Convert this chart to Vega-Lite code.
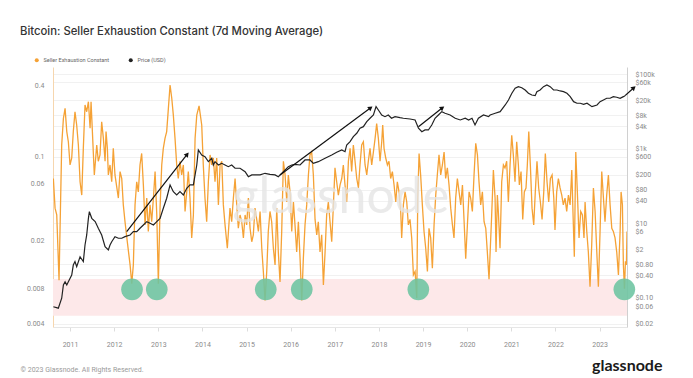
{
  "$schema": "https://vega.github.io/schema/vega-lite/v6.json",
  "width": 574,
  "height": 260,
  "autosize": {"type": "none"},
  "padding": {"left": 53, "top": 67, "right": 66, "bottom": 51},
  "background": "white",
  "title": {"text": "Bitcoin: Seller Exhaustion Constant (7d Moving Average)", "anchor": "start", "frame": "group", "dx": -33, "offset": 11, "baseline": "alphabetic", "fontSize": 11.3, "font": "Inter", "fontWeight": 500, "color": "#333333"},
  "config": {"view": {"stroke": null}, "axis": {"labelFont": "Roboto", "labelFontSize": 7, "labelColor": "#8a8a8a"}},
  "datasets": {
    "sec": [
      {"date":"2010-08-16","v":0.066},{"date":"2010-08-30","v":0.0373},{"date":"2010-09-13","v":0.0327},{"date":"2010-10-02","v":0.0093},{"date":"2010-10-24","v":0.126},{"date":"2010-11-07","v":0.21},{"date":"2010-11-21","v":0.255},{"date":"2010-12-05","v":0.163},{"date":"2010-12-18","v":0.134},
      {"date":"2011-01-01","v":0.0857},{"date":"2011-01-15","v":0.098},{"date":"2011-01-28","v":0.163},{"date":"2011-02-11","v":0.239},{"date":"2011-02-25","v":0.185},{"date":"2011-03-11","v":0.126},{"date":"2011-03-25","v":0.062},{"date":"2011-04-08","v":0.048},{"date":"2011-04-21","v":0.118},{"date":"2011-05-05","v":0.272},{"date":"2011-05-19","v":0.239},{"date":"2011-06-02","v":0.29},{"date":"2011-06-16","v":0.174},{"date":"2011-06-24","v":0.29},{"date":"2011-07-05","v":0.163},{"date":"2011-07-21","v":0.0707},{"date":"2011-08-10","v":0.126},{"date":"2011-08-23","v":0.092},{"date":"2011-09-06","v":0.104},{"date":"2011-09-20","v":0.197},{"date":"2011-10-04","v":0.143},{"date":"2011-10-18","v":0.092},{"date":"2011-10-26","v":0.163},{"date":"2011-11-06","v":0.118},{"date":"2011-11-14","v":0.0707},{"date":"2011-11-28","v":0.0857},{"date":"2011-12-12","v":0.062},{"date":"2011-12-25","v":0.118},
      {"date":"2012-01-08","v":0.0707},{"date":"2012-02-05","v":0.0453},{"date":"2012-02-19","v":0.0755},{"date":"2012-03-04","v":0.066},{"date":"2012-03-17","v":0.0397},{"date":"2012-03-31","v":0.0287},{"date":"2012-04-19","v":0.0195},{"date":"2012-05-12","v":0.0125},{"date":"2012-05-26","v":0.0087},{"date":"2012-06-08","v":0.0125},{"date":"2012-06-22","v":0.0397},{"date":"2012-07-06","v":0.062},{"date":"2012-07-19","v":0.051},{"date":"2012-08-02","v":0.0857},{"date":"2012-08-16","v":0.107},{"date":"2012-08-30","v":0.0583},{"date":"2012-09-13","v":0.027},{"date":"2012-09-27","v":0.0453},{"date":"2012-10-10","v":0.0238},{"date":"2012-10-24","v":0.0397},{"date":"2012-11-07","v":0.0287},{"date":"2012-11-21","v":0.0453},{"date":"2012-12-05","v":0.0755},{"date":"2012-12-19","v":0.0327},
      {"date":"2013-01-01","v":0.0087},{"date":"2013-01-15","v":0.0373},{"date":"2013-01-29","v":0.0857},{"date":"2013-02-11","v":0.118},{"date":"2013-02-25","v":0.143},{"date":"2013-03-11","v":0.163},{"date":"2013-03-25","v":0.255},{"date":"2013-04-08","v":0.4},{"date":"2013-04-22","v":0.31},{"date":"2013-05-05","v":0.224},{"date":"2013-05-19","v":0.143},{"date":"2013-06-02","v":0.0857},{"date":"2013-06-15","v":0.066},{"date":"2013-06-29","v":0.092},{"date":"2013-07-13","v":0.0707},{"date":"2013-07-27","v":0.0857},{"date":"2013-08-10","v":0.035},{"date":"2013-08-24","v":0.051},{"date":"2013-09-06","v":0.0755},{"date":"2013-09-20","v":0.0453},{"date":"2013-10-04","v":0.021},{"date":"2013-10-18","v":0.0327},{"date":"2013-11-01","v":0.143},{"date":"2013-11-15","v":0.224},{"date":"2013-12-04","v":0.268},{"date":"2013-12-26","v":0.185},
      {"date":"2014-01-08","v":0.0857},{"date":"2014-01-22","v":0.0453},{"date":"2014-02-05","v":0.0287},{"date":"2014-02-19","v":0.062},{"date":"2014-03-05","v":0.104},{"date":"2014-03-19","v":0.0857},{"date":"2014-04-01","v":0.098},{"date":"2014-04-15","v":0.062},{"date":"2014-04-29","v":0.098},{"date":"2014-05-13","v":0.0397},{"date":"2014-05-27","v":0.0857},{"date":"2014-06-10","v":0.092},{"date":"2014-06-23","v":0.0397},{"date":"2014-07-07","v":0.027},{"date":"2014-07-26","v":0.0172},{"date":"2014-08-17","v":0.0373},{"date":"2014-08-31","v":0.0287},{"date":"2014-09-14","v":0.0453},{"date":"2014-09-28","v":0.066},{"date":"2014-10-12","v":0.0397},{"date":"2014-10-25","v":0.0253},{"date":"2014-11-08","v":0.0327},{"date":"2014-11-22","v":0.0287},{"date":"2014-12-06","v":0.021},{"date":"2014-12-20","v":0.0327},
      {"date":"2015-01-02","v":0.027},{"date":"2015-01-16","v":0.0453},{"date":"2015-01-30","v":0.0253},{"date":"2015-02-13","v":0.0195},{"date":"2015-02-26","v":0.0223},{"date":"2015-03-12","v":0.0373},{"date":"2015-03-26","v":0.03},{"date":"2015-04-09","v":0.0238},{"date":"2015-04-23","v":0.035},{"date":"2015-05-07","v":0.0172},{"date":"2015-05-20","v":0.011},{"date":"2015-06-03","v":0.0063},{"date":"2015-06-17","v":0.011},{"date":"2015-06-30","v":0.0238},{"date":"2015-07-14","v":0.035},{"date":"2015-07-28","v":0.0287},{"date":"2015-08-11","v":0.0172},{"date":"2015-08-25","v":0.0125},{"date":"2015-09-08","v":0.0373},{"date":"2015-09-21","v":0.016},{"date":"2015-10-05","v":0.009},{"date":"2015-10-19","v":0.0238},{"date":"2015-11-02","v":0.092},{"date":"2015-11-16","v":0.0707},{"date":"2015-11-30","v":0.042},{"date":"2015-12-13","v":0.0707},{"date":"2015-12-27","v":0.051},
      {"date":"2016-01-10","v":0.0238},{"date":"2016-01-24","v":0.042},{"date":"2016-02-06","v":0.027},{"date":"2016-02-20","v":0.016},{"date":"2016-03-05","v":0.0287},{"date":"2016-03-19","v":0.0141},{"date":"2016-04-02","v":0.0063},{"date":"2016-04-15","v":0.0141},{"date":"2016-04-29","v":0.027},{"date":"2016-05-13","v":0.0397},{"date":"2016-05-27","v":0.0707},{"date":"2016-06-09","v":0.104},{"date":"2016-06-23","v":0.11},{"date":"2016-07-07","v":0.0707},{"date":"2016-07-21","v":0.03},{"date":"2016-08-04","v":0.0223},{"date":"2016-08-17","v":0.0287},{"date":"2016-08-31","v":0.016},{"date":"2016-09-14","v":0.0223},{"date":"2016-09-28","v":0.0085},{"date":"2016-10-12","v":0.016},{"date":"2016-10-25","v":0.0327},{"date":"2016-11-08","v":0.042},{"date":"2016-11-22","v":0.0287},{"date":"2016-12-06","v":0.0195},{"date":"2016-12-20","v":0.0397},
      {"date":"2017-01-02","v":0.081},{"date":"2017-01-16","v":0.062},{"date":"2017-01-30","v":0.048},{"date":"2017-02-13","v":0.0583},{"date":"2017-02-27","v":0.066},{"date":"2017-03-12","v":0.0857},{"date":"2017-03-26","v":0.0583},{"date":"2017-04-09","v":0.042},{"date":"2017-04-23","v":0.092},{"date":"2017-05-07","v":0.118},{"date":"2017-05-20","v":0.0755},{"date":"2017-06-03","v":0.126},{"date":"2017-06-17","v":0.092},{"date":"2017-07-01","v":0.066},{"date":"2017-07-15","v":0.055},{"date":"2017-07-28","v":0.0857},{"date":"2017-08-11","v":0.126},{"date":"2017-08-25","v":0.134},{"date":"2017-09-08","v":0.0857},{"date":"2017-09-22","v":0.0707},{"date":"2017-10-05","v":0.092},{"date":"2017-10-19","v":0.118},{"date":"2017-11-02","v":0.0857},{"date":"2017-11-16","v":0.11},{"date":"2017-11-30","v":0.143},{"date":"2017-12-13","v":0.19},{"date":"2017-12-27","v":0.143},
      {"date":"2018-01-10","v":0.092},{"date":"2018-01-24","v":0.134},{"date":"2018-02-01","v":0.185},{"date":"2018-02-12","v":0.118},{"date":"2018-02-26","v":0.098},{"date":"2018-03-12","v":0.0857},{"date":"2018-03-25","v":0.092},{"date":"2018-04-08","v":0.066},{"date":"2018-04-22","v":0.0755},{"date":"2018-05-06","v":0.0583},{"date":"2018-05-20","v":0.042},{"date":"2018-06-02","v":0.062},{"date":"2018-06-16","v":0.051},{"date":"2018-06-30","v":0.035},{"date":"2018-07-08","v":0.021},{"date":"2018-07-22","v":0.0397},{"date":"2018-08-05","v":0.051},{"date":"2018-08-19","v":0.042},{"date":"2018-09-01","v":0.027},{"date":"2018-09-15","v":0.03},{"date":"2018-09-29","v":0.021},{"date":"2018-10-13","v":0.0103},{"date":"2018-10-27","v":0.011},{"date":"2018-11-10","v":0.0066},{"date":"2018-11-18","v":0.0453},{"date":"2018-11-29","v":0.107},{"date":"2018-12-12","v":0.0707},{"date":"2018-12-26","v":0.0397},
      {"date":"2019-01-09","v":0.0238},{"date":"2019-01-23","v":0.0172},{"date":"2019-02-06","v":0.011},{"date":"2019-02-19","v":0.0253},{"date":"2019-03-05","v":0.021},{"date":"2019-03-19","v":0.0117},{"date":"2019-04-02","v":0.027},{"date":"2019-04-16","v":0.048},{"date":"2019-04-29","v":0.0707},{"date":"2019-05-13","v":0.104},{"date":"2019-05-27","v":0.0707},{"date":"2019-06-10","v":0.0857},{"date":"2019-06-24","v":0.11},{"date":"2019-07-07","v":0.066},{"date":"2019-07-21","v":0.081},{"date":"2019-08-04","v":0.0583},{"date":"2019-08-18","v":0.0373},{"date":"2019-09-01","v":0.027},{"date":"2019-09-14","v":0.021},{"date":"2019-09-28","v":0.0453},{"date":"2019-10-12","v":0.066},{"date":"2019-10-26","v":0.051},{"date":"2019-11-09","v":0.0397},{"date":"2019-11-23","v":0.0583},{"date":"2019-12-06","v":0.03},{"date":"2019-12-20","v":0.0141},
      {"date":"2020-01-03","v":0.027},{"date":"2020-01-17","v":0.051},{"date":"2020-01-30","v":0.0453},{"date":"2020-02-13","v":0.035},{"date":"2020-02-27","v":0.0707},{"date":"2020-03-12","v":0.13},{"date":"2020-03-26","v":0.104},{"date":"2020-04-08","v":0.062},{"date":"2020-04-22","v":0.0397},{"date":"2020-05-06","v":0.051},{"date":"2020-05-20","v":0.0287},{"date":"2020-06-03","v":0.0253},{"date":"2020-06-16","v":0.016},{"date":"2020-06-30","v":0.0095},{"date":"2020-07-22","v":0.0327},{"date":"2020-08-05","v":0.0779},{"date":"2020-08-19","v":0.0453},{"date":"2020-08-27","v":0.016},{"date":"2020-09-07","v":0.048},{"date":"2020-09-15","v":0.035},{"date":"2020-09-29","v":0.0172},{"date":"2020-10-13","v":0.062},{"date":"2020-10-27","v":0.0857},{"date":"2020-11-09","v":0.081},{"date":"2020-11-23","v":0.092},{"date":"2020-12-07","v":0.042},{"date":"2020-12-21","v":0.0857},
      {"date":"2021-01-04","v":0.152},{"date":"2021-01-17","v":0.104},{"date":"2021-01-31","v":0.062},{"date":"2021-02-14","v":0.134},{"date":"2021-02-28","v":0.0857},{"date":"2021-03-08","v":0.0583},{"date":"2021-03-22","v":0.0755},{"date":"2021-04-05","v":0.03},{"date":"2021-04-18","v":0.051},{"date":"2021-05-02","v":0.055},{"date":"2021-05-13","v":0.0857},{"date":"2021-05-25","v":0.163},{"date":"2021-06-07","v":0.0857},{"date":"2021-06-21","v":0.0373},{"date":"2021-07-05","v":0.027},{"date":"2021-07-18","v":0.051},{"date":"2021-08-01","v":0.092},{"date":"2021-08-15","v":0.055},{"date":"2021-08-29","v":0.042},{"date":"2021-09-12","v":0.03},{"date":"2021-09-26","v":0.051},{"date":"2021-10-09","v":0.107},{"date":"2021-10-23","v":0.062},{"date":"2021-11-06","v":0.042},{"date":"2021-11-20","v":0.066},{"date":"2021-12-04","v":0.0707},{"date":"2021-12-18","v":0.0453},{"date":"2021-12-28","v":0.0245},
      {"date":"2022-01-11","v":0.051},{"date":"2022-01-25","v":0.066},{"date":"2022-02-08","v":0.055},{"date":"2022-02-22","v":0.048},{"date":"2022-03-07","v":0.0397},{"date":"2022-03-21","v":0.0453},{"date":"2022-04-04","v":0.035},{"date":"2022-04-18","v":0.048},{"date":"2022-05-02","v":0.0397},{"date":"2022-05-16","v":0.0779},{"date":"2022-05-29","v":0.027},{"date":"2022-06-06","v":0.0146},{"date":"2022-06-18","v":0.11},{"date":"2022-07-01","v":0.051},{"date":"2022-07-15","v":0.021},{"date":"2022-07-29","v":0.035},{"date":"2022-08-12","v":0.0327},{"date":"2022-08-25","v":0.021},{"date":"2022-09-03","v":0.042},{"date":"2022-09-17","v":0.0238},{"date":"2022-09-30","v":0.016},{"date":"2022-10-14","v":0.0082},{"date":"2022-10-28","v":0.0184},{"date":"2022-11-11","v":0.055},{"date":"2022-11-25","v":0.035},{"date":"2022-12-09","v":0.016},{"date":"2022-12-22","v":0.0082},
      {"date":"2023-01-05","v":0.0238},{"date":"2023-01-19","v":0.0755},{"date":"2023-02-02","v":0.0453},{"date":"2023-02-15","v":0.0287},{"date":"2023-03-01","v":0.048},{"date":"2023-03-15","v":0.0707},{"date":"2023-03-29","v":0.0397},{"date":"2023-04-12","v":0.0253},{"date":"2023-04-25","v":0.0238},{"date":"2023-05-09","v":0.021},{"date":"2023-05-23","v":0.016},{"date":"2023-06-06","v":0.0103},{"date":"2023-06-20","v":0.0238},{"date":"2023-06-28","v":0.051},{"date":"2023-07-09","v":0.0397},{"date":"2023-07-17","v":0.0125},{"date":"2023-07-26","v":0.0079},{"date":"2023-08-03","v":0.0134},{"date":"2023-08-11","v":0.0125},{"date":"2023-08-16","v":0.0238}
    ],
    "price": [
      {"date":"2010-08-16","p":0.058},{"date":"2010-09-26","p":0.053},{"date":"2010-10-24","p":0.098},{"date":"2010-11-07","p":0.222},{"date":"2010-11-21","p":0.272},{"date":"2010-12-05","p":0.222},{"date":"2010-12-18","p":0.272},
      {"date":"2011-01-15","p":0.412},{"date":"2011-01-28","p":0.76},{"date":"2011-02-11","p":0.94},{"date":"2011-02-25","p":0.69},{"date":"2011-03-25","p":1.27},{"date":"2011-04-21","p":0.94},{"date":"2011-05-05","p":2.62},{"date":"2011-05-19","p":4.87},{"date":"2011-06-02","p":13.6},{"date":"2011-06-10","p":20.5},{"date":"2011-06-30","p":13.6},{"date":"2011-07-28","p":11.1},{"date":"2011-08-23","p":7.36},{"date":"2011-09-20","p":4.87},{"date":"2011-10-18","p":2.36},{"date":"2011-11-14","p":1.93},{"date":"2011-11-28","p":2.62},{"date":"2011-12-12","p":3.21},
      {"date":"2012-01-08","p":4.38},{"date":"2012-02-05","p":3.97},{"date":"2012-03-04","p":3.97},{"date":"2012-03-31","p":4.38},{"date":"2012-05-12","p":4.87},{"date":"2012-06-08","p":5.97},{"date":"2012-07-06","p":5.97},{"date":"2012-08-02","p":7.36},{"date":"2012-08-30","p":9.02},{"date":"2012-09-27","p":11.1},{"date":"2012-10-24","p":10.0},{"date":"2012-11-21","p":9.02},{"date":"2012-12-19","p":11.1},
      {"date":"2013-01-15","p":13.6},{"date":"2013-02-11","p":25.3},{"date":"2013-03-11","p":46.9},{"date":"2013-04-08","p":107},{"date":"2013-05-05","p":70.5},{"date":"2013-06-02","p":57.4},{"date":"2013-06-29","p":70.5},{"date":"2013-07-27","p":57.4},{"date":"2013-08-24","p":86.9},{"date":"2013-09-20","p":107},{"date":"2013-10-18","p":107},{"date":"2013-11-15","p":366},{"date":"2013-11-28","p":925},{"date":"2013-12-26","p":679},
      {"date":"2014-01-22","p":611},{"date":"2014-02-19","p":449},{"date":"2014-03-19","p":554},{"date":"2014-04-01","p":366},{"date":"2014-04-15","p":449},{"date":"2014-05-13","p":366},{"date":"2014-06-10","p":406},{"date":"2014-07-07","p":366},{"date":"2014-08-03","p":330},{"date":"2014-08-31","p":366},{"date":"2014-09-28","p":299},{"date":"2014-11-08","p":299},{"date":"2014-12-20","p":242},
      {"date":"2015-01-16","p":178},{"date":"2015-02-13","p":198},{"date":"2015-03-12","p":198},{"date":"2015-04-23","p":198},{"date":"2015-06-03","p":219},{"date":"2015-07-14","p":206},{"date":"2015-08-25","p":198},{"date":"2015-09-21","p":178},{"date":"2015-11-02","p":242},{"date":"2015-12-13","p":330},
      {"date":"2016-01-10","p":366},{"date":"2016-02-06","p":382},{"date":"2016-03-19","p":366},{"date":"2016-04-29","p":499},{"date":"2016-06-09","p":499},{"date":"2016-07-07","p":406},{"date":"2016-08-17","p":449},{"date":"2016-10-12","p":554},{"date":"2016-12-06","p":679},
      {"date":"2017-01-16","p":802},{"date":"2017-02-27","p":925},{"date":"2017-03-26","p":832},{"date":"2017-04-09","p":1259},{"date":"2017-05-07","p":1543},{"date":"2017-06-03","p":2099},{"date":"2017-07-01","p":2594},{"date":"2017-07-28","p":3532},{"date":"2017-08-25","p":3900},{"date":"2017-09-22","p":5308},{"date":"2017-10-19","p":6546},{"date":"2017-11-16","p":8020},{"date":"2017-12-08","p":13398},{"date":"2017-12-27","p":10916},
      {"date":"2018-01-24","p":8020},{"date":"2018-02-20","p":7228},{"date":"2018-03-19","p":8020},{"date":"2018-04-15","p":6546},{"date":"2018-05-14","p":7228},{"date":"2018-06-24","p":6792},{"date":"2018-07-22","p":6546},{"date":"2018-09-15","p":6266},{"date":"2018-10-27","p":5890},{"date":"2018-11-24","p":3532},{"date":"2018-12-22","p":2858},
      {"date":"2019-01-17","p":3178},{"date":"2019-02-14","p":3178},{"date":"2019-03-14","p":4326},{"date":"2019-04-10","p":6546},{"date":"2019-05-08","p":8020},{"date":"2019-06-05","p":9840},{"date":"2019-07-02","p":8914},{"date":"2019-08-13","p":8020},{"date":"2019-09-24","p":6546},{"date":"2019-11-05","p":5890},{"date":"2019-12-16","p":6546},
      {"date":"2020-01-13","p":5890},{"date":"2020-02-10","p":6546},{"date":"2020-03-06","p":4326},{"date":"2020-04-03","p":6546},{"date":"2020-05-15","p":8020},{"date":"2020-06-26","p":7228},{"date":"2020-07-09","p":8020},{"date":"2020-08-20","p":8914},{"date":"2020-09-30","p":9840},{"date":"2020-11-11","p":14860},{"date":"2020-12-08","p":20240},
      {"date":"2021-01-05","p":30620},{"date":"2021-02-01","p":41680},{"date":"2021-02-28","p":46040},{"date":"2021-03-28","p":43260},{"date":"2021-04-25","p":37520},{"date":"2021-05-22","p":30620},{"date":"2021-06-19","p":27540},{"date":"2021-07-17","p":26420},{"date":"2021-07-31","p":33800},{"date":"2021-08-27","p":37520},{"date":"2021-09-24","p":46040},{"date":"2021-10-22","p":51140},{"date":"2021-11-18","p":46040},{"date":"2021-12-16","p":37520},
      {"date":"2022-01-13","p":37520},{"date":"2022-02-09","p":35320},{"date":"2022-03-09","p":33800},{"date":"2022-04-06","p":30620},{"date":"2022-05-03","p":24840},{"date":"2022-05-31","p":18240},{"date":"2022-06-28","p":16520},{"date":"2022-07-25","p":16520},{"date":"2022-08-22","p":15520},{"date":"2022-09-19","p":16520},{"date":"2022-10-30","p":13398},{"date":"2022-12-11","p":14860},
      {"date":"2023-01-05","p":18240},{"date":"2023-02-02","p":20240},{"date":"2023-03-01","p":22500},{"date":"2023-03-29","p":22500},{"date":"2023-04-25","p":24840},{"date":"2023-05-23","p":23940},{"date":"2023-06-20","p":22500},{"date":"2023-07-17","p":24840},{"date":"2023-07-31","p":26420}
    ],
    "circles": [
      {"date":"2012-05-28","v":0.0078},{"date":"2012-12-19","v":0.0078},{"date":"2015-06-09","v":0.0078},{"date":"2016-04-02","v":0.0078},{"date":"2018-11-23","v":0.0078},{"date":"2023-07-25","v":0.0078}
    ],
    "arrows": [
      {"id":1,"date":"2012-04-14","p":5.97,"date2":"2013-08-24","p2":679},
      {"id":2,"date":"2015-10-05","p":198,"date2":"2017-10-19","p2":12130},
      {"id":3,"date":"2018-11-24","p":3900,"date2":"2019-06-05","p2":12130},
      {"id":4,"date":"2023-07-31","p":26420,"date2":"2023-10-07","p2":41680}
    ],
    "band": [{"v":0.0047,"v2":0.0095}]
  },
  "layer": [
    {
      "layer": [
        {
          "data": {"name": "band"},
          "mark": {"type": "rect", "color": "#fde8e9"},
          "encoding": {
            "y": {"field": "v", "type": "quantitative", "scale": {"type": "log", "domain": [0.003775, 0.566], "nice": false}},
            "y2": {"field": "v2"}
          }
        },
        {
          "data": {"name": "sec"},
          "mark": {"type": "line", "strokeWidth": 1.3, "clip": true},
          "encoding": {
            "x": {"field": "date", "type": "temporal", "scale": {"domain": [{"year": 2010, "month": 8, "date": 13}, {"year": 2023, "month": 8, "date": 16}]},
              "axis": {"format": "%Y", "tickCount": {"interval": "year", "step": 1}, "grid": false, "domainColor": "#e6e6e6", "tickColor": "#dddddd", "tickSize": 4, "labelPadding": 9, "labelFlush": false,
                "title": "© 2023 Glassnode. All Rights Reserved.", "titleX": -33, "titleY": 44, "titleAlign": "left", "titleBaseline": "alphabetic", "titleFontSize": 7, "titleFontWeight": "normal", "titleColor": "#9a9a9a", "titleFont": "Roboto"}},
            "y": {"field": "v", "type": "quantitative", "scale": {"type": "log", "domain": [0.003775, 0.566], "nice": false},
              "axis": {"orient": "left", "values": [0.004, 0.008, 0.02, 0.06, 0.1, 0.4], "format": "~g", "ticks": false, "grid": false, "domainColor": "#f6d6ae", "labelPadding": 9, "labelOverlap": false, "labelBound": false, "title": null}},
            "color": {"datum": "Seller Exhaustion Constant", "type": "nominal",
              "scale": {"domain": ["Seller Exhaustion Constant", "Price (USD)"], "range": ["#f5a236", "#222222"]},
              "legend": {"title": null, "orient": "none", "legendX": -19, "legendY": -10, "direction": "horizontal", "symbolType": "circle", "symbolSize": 16, "labelFontSize": 5.5, "labelColor": "#666666", "labelFont": "Roboto", "columnPadding": 18,
                "encode": {"symbols": {"update": {"fill": {"scale": "color", "field": "value"}, "strokeWidth": {"value": 0}}}}}}
          }
        },
        {
          "data": {"name": "circles"},
          "mark": {"type": "point", "shape": "circle", "filled": true, "color": "#6cc4a0", "opacity": 0.88, "size": 470},
          "encoding": {
            "x": {"field": "date", "type": "temporal", "scale": {"domain": [{"year": 2010, "month": 8, "date": 13}, {"year": 2023, "month": 8, "date": 16}]}},
            "y": {"field": "v", "type": "quantitative", "scale": {"type": "log", "domain": [0.003775, 0.566], "nice": false}}
          }
        },
        {
          "data": {"values": [{}]},
          "mark": {"type": "text", "text": "glassnode", "font": "Lato", "fontSize": 50, "fontWeight": "normal", "color": "#e6e6e6", "opacity": 0.8, "align": "center", "baseline": "alphabetic"},
          "encoding": {
            "x": {"datum": {"year": 2017, "month": 2, "date": 20}, "type": "temporal", "scale": {"domain": [{"year": 2010, "month": 8, "date": 13}, {"year": 2023, "month": 8, "date": 16}]}},
            "y": {"datum": 0.034, "type": "quantitative", "scale": {"type": "log", "domain": [0.003775, 0.566], "nice": false}}
          }
        }
      ]
    },
    {
      "layer": [
        {
          "data": {"name": "price"},
          "mark": {"type": "line", "strokeWidth": 1.2, "clip": true},
          "encoding": {
            "x": {"field": "date", "type": "temporal", "scale": {"domain": [{"year": 2010, "month": 8, "date": 13}, {"year": 2023, "month": 8, "date": 16}]}},
            "y": {"field": "p", "type": "quantitative", "scale": {"type": "log", "domain": [0.0166, 155000], "nice": false},
              "axis": {"orient": "right", "values": [0.02, 0.06, 0.1, 0.4, 0.8, 2, 6, 10, 40, 80, 200, 600, 1000, 4000, 8000, 20000, 60000, 100000],
                "labelExpr": "datum.value >= 1000 ? '$' + (datum.value / 1000) + 'k' : (datum.value < 1 ? '$' + format(datum.value, '.2f') : '$' + datum.value)",
                "ticks": false, "grid": true, "gridColor": "#f1f1f1", "domainColor": "#d0d0d0", "labelPadding": 8, "labelOverlap": false, "labelBound": false, "labelAlign": "left",
                "title": "glassnode", "titleAngle": 0, "titleX": 35, "titleY": 303, "titleAlign": "right", "titleBaseline": "alphabetic", "titleFontSize": 16, "titleFont": "Lato", "titleFontWeight": 700, "titleColor": "#1a1a1a"}},
            "color": {"datum": "Price (USD)", "type": "nominal"}
          }
        },
        {
          "data": {"name": "arrows"},
          "mark": {"type": "rule", "color": "#111111", "strokeWidth": 1.2, "clip": false},
          "encoding": {
            "x": {"field": "date", "type": "temporal", "scale": {"domain": [{"year": 2010, "month": 8, "date": 13}, {"year": 2023, "month": 8, "date": 16}]}},
            "x2": {"field": "date2"},
            "y": {"field": "p", "type": "quantitative", "scale": {"type": "log", "domain": [0.0166, 155000], "nice": false}},
            "y2": {"field": "p2"}
          }
        },
        {
          "data": {"name": "arrows"},
          "transform": [{"filter": "datum.id == 1"}],
          "mark": {"type": "point", "shape": "triangle", "filled": true, "color": "#111111", "opacity": 1, "size": 28, "angle": 38, "clip": false},
          "encoding": {
            "x": {"field": "date2", "type": "temporal", "scale": {"domain": [{"year": 2010, "month": 8, "date": 13}, {"year": 2023, "month": 8, "date": 16}]}},
            "y": {"field": "p2", "type": "quantitative", "scale": {"type": "log", "domain": [0.0166, 155000], "nice": false}}
          }
        },
        {
          "data": {"name": "arrows"},
          "transform": [{"filter": "datum.id == 2 || datum.id == 3"}],
          "mark": {"type": "point", "shape": "triangle", "filled": true, "color": "#111111", "opacity": 1, "size": 28, "angle": 53, "clip": false},
          "encoding": {
            "x": {"field": "date2", "type": "temporal", "scale": {"domain": [{"year": 2010, "month": 8, "date": 13}, {"year": 2023, "month": 8, "date": 16}]}},
            "y": {"field": "p2", "type": "quantitative", "scale": {"type": "log", "domain": [0.0166, 155000], "nice": false}}
          }
        },
        {
          "data": {"name": "arrows"},
          "transform": [{"filter": "datum.id == 4"}],
          "mark": {"type": "point", "shape": "triangle", "filled": true, "color": "#111111", "opacity": 1, "size": 28, "angle": 48, "clip": false},
          "encoding": {
            "x": {"field": "date2", "type": "temporal", "scale": {"domain": [{"year": 2010, "month": 8, "date": 13}, {"year": 2023, "month": 8, "date": 16}]}},
            "y": {"field": "p2", "type": "quantitative", "scale": {"type": "log", "domain": [0.0166, 155000], "nice": false}}
          }
        }
      ]
    }
  ],
  "resolve": {"scale": {"y": "independent"}}
}
